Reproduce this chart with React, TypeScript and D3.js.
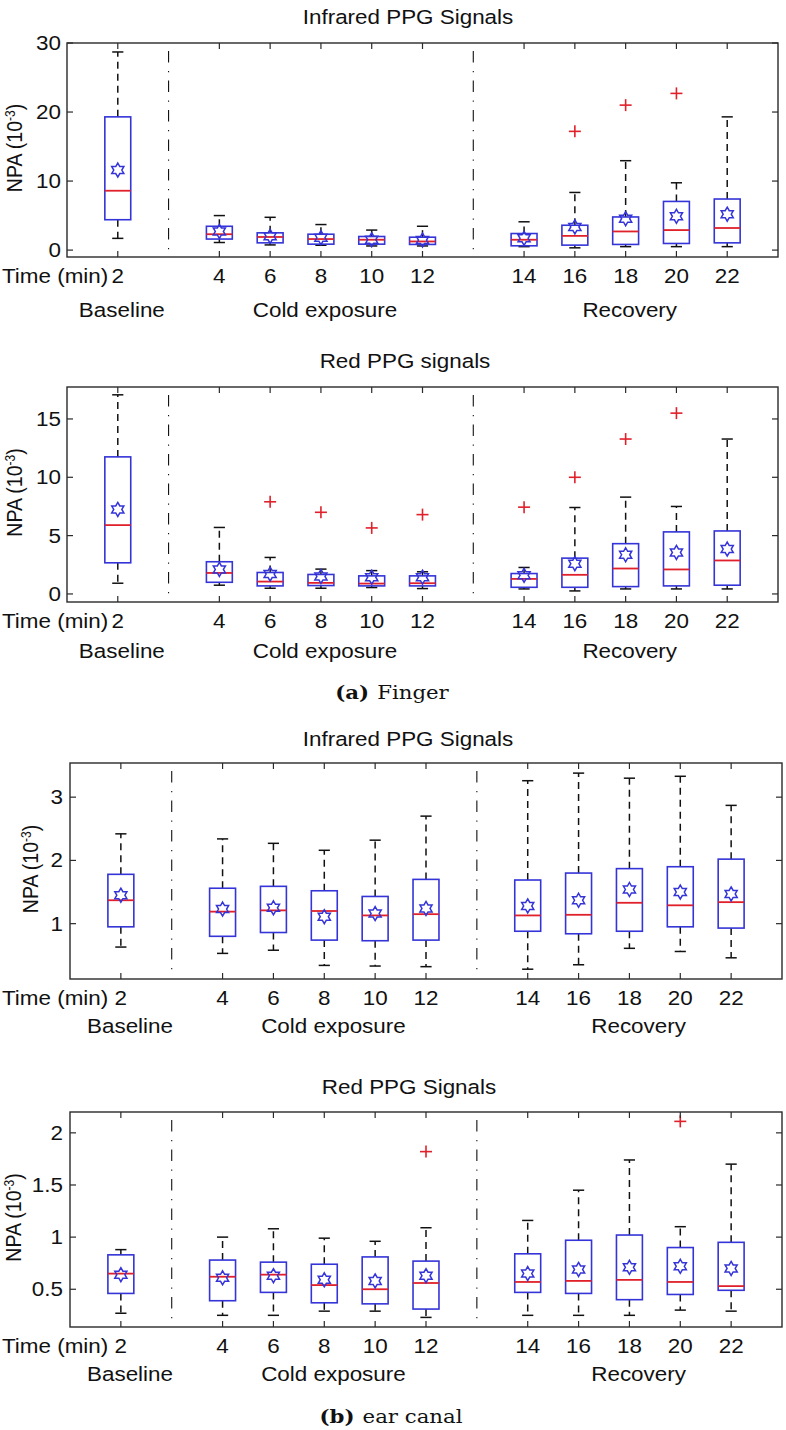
import React from "react";
import * as d3 from "d3";

// ---------- data ----------
const times = [2, 4, 6, 8, 10, 12, 14, 16, 18, 20, 22];
const groupNames = ["Baseline", "Cold exposure", "Recovery"];
const groupOf = [0, 1, 1, 1, 1, 1, 2, 2, 2, 2, 2];

// (a) Finger - Infrared
const fiLo = [1.7, 1.1, 0.75, 0.7, 0.6, 0.6, 0.5, 0.33, 0.5, 0.5, 0.5];
const fiQ1 = [4.4, 1.6, 1.05, 0.86, 0.86, 0.82, 0.62, 0.72, 0.82, 0.96, 1.05];
const fiMed = [8.6, 2.3, 1.9, 1.6, 1.5, 1.25, 1.5, 2.06, 2.7, 2.9, 3.2];
const fiQ3 = [19.3, 3.45, 2.5, 2.3, 1.97, 1.87, 2.4, 3.6, 4.8, 7.05, 7.4];
const fiHi = [28.7, 5.0, 4.75, 3.7, 2.9, 3.45, 4.1, 8.35, 12.95, 9.75, 19.3];
const fiMean = [11.6, 2.7, 2.0, 1.8, 1.5, 1.45, 1.7, 3.35, 4.55, 4.9, 5.2];
const fiOut = [[], [], [], [], [], [], [], [17.2], [21.0], [22.7], []];

// (a) Finger - Red
const frLo = [0.92, 0.75, 0.49, 0.49, 0.55, 0.46, 0.43, 0.26, 0.43, 0.43, 0.43];
const frQ1 = [2.67, 1.0, 0.69, 0.72, 0.69, 0.69, 0.57, 0.57, 0.63, 0.69, 0.75];
const frMed = [5.9, 1.8, 1.06, 0.95, 0.89, 0.92, 1.29, 1.64, 2.18, 2.1, 2.87];
const frQ3 = [11.75, 2.76, 1.84, 1.67, 1.55, 1.55, 1.75, 3.07, 4.31, 5.32, 5.4];
const frHi = [17.07, 5.7, 3.13, 2.13, 2.0, 1.9, 2.27, 7.41, 8.3, 7.5, 13.28];
const frMean = [7.24, 2.1, 1.7, 1.5, 1.44, 1.44, 1.6, 2.59, 3.36, 3.56, 3.85];
const frOut = [[], [], [7.9], [7.0], [5.66], [6.8], [7.44], [10.0], [13.28], [15.5], []];

// (b) Ear canal - Infrared
const eiLo = [0.63, 0.53, 0.58, 0.34, 0.33, 0.32, 0.28, 0.35, 0.61, 0.56, 0.46];
const eiQ1 = [0.95, 0.8, 0.86, 0.74, 0.73, 0.74, 0.88, 0.84, 0.88, 0.95, 0.93];
const eiMed = [1.37, 1.19, 1.21, 1.2, 1.13, 1.15, 1.13, 1.14, 1.33, 1.29, 1.34];
const eiQ3 = [1.78, 1.56, 1.59, 1.52, 1.43, 1.7, 1.69, 1.8, 1.87, 1.9, 2.02];
const eiHi = [2.42, 2.34, 2.27, 2.16, 2.32, 2.7, 3.26, 3.38, 3.3, 3.33, 2.87];
const eiMean = [1.45, 1.23, 1.25, 1.11, 1.16, 1.24, 1.28, 1.37, 1.54, 1.5, 1.47];
const eiOut = [[], [], [], [], [], [], [], [], [], [], []];

// (b) Ear canal - Red
const erLo = [0.27, 0.25, 0.25, 0.29, 0.29, 0.23, 0.25, 0.25, 0.25, 0.3, 0.29];
const erQ1 = [0.46, 0.39, 0.47, 0.37, 0.36, 0.31, 0.47, 0.46, 0.4, 0.45, 0.49];
const erMed = [0.65, 0.62, 0.64, 0.54, 0.5, 0.56, 0.57, 0.58, 0.59, 0.57, 0.53];
const erQ3 = [0.83, 0.78, 0.76, 0.74, 0.81, 0.77, 0.84, 0.97, 1.02, 0.9, 0.95];
const erHi = [0.88, 1.0, 1.08, 0.99, 0.96, 1.09, 1.16, 1.45, 1.74, 1.1, 1.7];
const erMean = [0.64, 0.61, 0.63, 0.59, 0.58, 0.63, 0.65, 0.69, 0.71, 0.72, 0.7];
const erOut = [[], [], [], [], [], [1.82], [], [], [], [2.11], []];

const fiTicks = [0, 10, 20, 30];
const frTicks = [0, 5, 10, 15];
const eiTicks = [1, 2, 3];
const erTicks = [0.5, 1, 1.5, 2];

// ---------- style ----------
const SANS = "'Liberation Sans', Arial, Helvetica, sans-serif";
const SERIF = "'DejaVu Serif', 'Liberation Serif', serif";
const FS = 19.5;
const SX = 1.15;
const BLUE = "#3434d8";
const RED = "#e0202a";
const AX = "#2a2a2a";

function T({ x, y, anchor = "middle", size = FS, family = SANS, weight = "normal", rotate = 0, children }: any) {
  const tr = `translate(${x},${y}) scale(${SX},1)` + (rotate ? ` rotate(${rotate})` : "");
  return (
    <text transform={tr} textAnchor={anchor} fontSize={size} fontFamily={family} fontWeight={weight} fill="#111">
      {children}
    </text>
  );
}

function starPath(cx: number, cy: number, R: number) {
  const r = R / Math.sqrt(3);
  const pts: string[] = [];
  for (let k = 0; k < 12; k++) {
    const a = -Math.PI / 2 + (k * Math.PI) / 6;
    const rad = k % 2 === 0 ? R : r;
    pts.push(`${(cx + rad * Math.cos(a)).toFixed(2)},${(cy + rad * Math.sin(a)).toFixed(2)}`);
  }
  return "M" + pts.join("L") + "Z";
}

function Panel({ p }: any) {
  const x = d3.scaleLinear().domain([0, 14]).range([p.left, p.right]);
  const y = d3.scaleLinear().domain(p.domain).range([p.bottom, p.top]);
  const slot = (i: number) => i + 1 + groupOf[i];
  const firstOf = (g: number) => groupOf.indexOf(g);
  const dividers = [1, 2].map((g) => slot(firstOf(g)) - 1);
  const groupCenters = groupNames.map((_, g) => {
    const idx = times.map((_, i) => i).filter((i) => groupOf[i] === g);
    return (slot(idx[0]) + slot(idx[idx.length - 1])) / 2;
  });
  const bw = 0.255;
  const cw = 0.11;
  const tick = 6;
  return (
    <g>
      <T x={p.titleX} y={p.titleY}>{p.title}</T>
      {/* dividers */}
      {dividers.map((d, k) => (
        <line key={k} x1={x(d)} x2={x(d)} y1={p.top + 8} y2={p.bottom - 6} stroke="#111" strokeWidth={1.1} strokeDasharray="11.5,8.5,1.2,8.3" />
      ))}
      {/* boxes */}
      {times.map((t, i) => {
        const s = slot(i);
        const cx = x(s);
        return (
          <g key={t}>
            <line x1={cx} x2={cx} y1={y(p.q3[i])} y2={y(p.hi[i])} stroke="#111" strokeWidth={1.5} strokeDasharray="7,5" />
            <line x1={cx} x2={cx} y1={y(p.q1[i])} y2={y(p.lo[i])} stroke="#111" strokeWidth={1.5} strokeDasharray="7,5" />
            <line x1={x(s - cw)} x2={x(s + cw)} y1={y(p.hi[i])} y2={y(p.hi[i])} stroke="#111" strokeWidth={1.5} />
            <line x1={x(s - cw)} x2={x(s + cw)} y1={y(p.lo[i])} y2={y(p.lo[i])} stroke="#111" strokeWidth={1.5} />
            <rect x={x(s - bw)} y={y(p.q3[i])} width={x(s + bw) - x(s - bw)} height={y(p.q1[i]) - y(p.q3[i])} fill="none" stroke={BLUE} strokeWidth={1.6} />
            <line x1={x(s - bw)} x2={x(s + bw)} y1={y(p.med[i])} y2={y(p.med[i])} stroke={RED} strokeWidth={1.8} />
            <path d={starPath(cx, y(p.mean[i]), 7)} fill="none" stroke={BLUE} strokeWidth={1.5} />
            {p.out[i].map((o: number, k: number) => (
              <g key={k} stroke={RED} strokeWidth={1.6}>
                <line x1={cx - 6} x2={cx + 6} y1={y(o)} y2={y(o)} />
                <line x1={cx} x2={cx} y1={y(o) - 6} y2={y(o) + 6} />
              </g>
            ))}
          </g>
        );
      })}
      {/* axes box */}
      <rect x={p.left} y={p.top} width={p.right - p.left} height={p.bottom - p.top} fill="none" stroke={AX} strokeWidth={1.4} />
      {/* x ticks */}
      {times.map((t, i) => (
        <g key={"xt" + t}>
          <line x1={x(slot(i))} x2={x(slot(i))} y1={p.bottom} y2={p.bottom - tick} stroke={AX} strokeWidth={1.2} />
          <line x1={x(slot(i))} x2={x(slot(i))} y1={p.top} y2={p.top + tick} stroke={AX} strokeWidth={1.2} />
          <T x={x(slot(i))} y={p.bottom + 26}>{String(t)}</T>
        </g>
      ))}
      {/* y ticks */}
      {p.ticks.map((v: number) => (
        <g key={"yt" + v}>
          <line x1={p.left} x2={p.left + tick} y1={y(v)} y2={y(v)} stroke={AX} strokeWidth={1.2} />
          <line x1={p.right} x2={p.right - tick} y1={y(v)} y2={y(v)} stroke={AX} strokeWidth={1.2} />
          <T x={p.left - p.tickGap} y={y(v) + 7} anchor="end">{String(v)}</T>
        </g>
      ))}
      <T x={2} y={p.bottom + 26} anchor="start">Time (min)</T>
      {groupNames.map((g, k) => (
        <T key={g} x={x(groupCenters[k] + p.groupShift)} y={p.bottom + p.groupDy}>{g}</T>
      ))}
      <T x={p.ylabX} y={(p.top + p.bottom) / 2 - 2} rotate={-90}>
        NPA (10<tspan dy={-6} fontSize={12}>-3</tspan><tspan dy={6}>)</tspan>
      </T>
    </g>
  );
}

const panels = [
  {
    title: "Infrared PPG Signals", titleX: 408, titleY: 24,
    left: 67, right: 778, top: 43, bottom: 257, domain: [-1, 30], ticks: fiTicks, tickGap: 6,
    lo: fiLo, q1: fiQ1, med: fiMed, q3: fiQ3, hi: fiHi, mean: fiMean, out: fiOut,
    groupDy: 60, groupShift: 0.08, ylabX: 22,
  },
  {
    title: "Red PPG signals", titleX: 405, titleY: 368,
    left: 67, right: 778, top: 387, bottom: 602, domain: [-0.69, 17.74], ticks: frTicks, tickGap: 6,
    lo: frLo, q1: frQ1, med: frMed, q3: frQ3, hi: frHi, mean: frMean, out: frOut,
    groupDy: 56, groupShift: 0.08, ylabX: 22,
  },
  {
    title: "Infrared PPG Signals", titleX: 408, titleY: 746,
    left: 70, right: 782, top: 763, bottom: 979, domain: [0.125, 3.54], ticks: eiTicks, tickGap: 7,
    lo: eiLo, q1: eiQ1, med: eiMed, q3: eiQ3, hi: eiHi, mean: eiMean, out: eiOut,
    groupDy: 54, groupShift: 0.18, ylabX: 38,
  },
  {
    title: "Red PPG Signals", titleX: 409, titleY: 1094,
    left: 70, right: 782, top: 1112, bottom: 1327, domain: [0.138, 2.2], ticks: erTicks, tickGap: 7,
    lo: erLo, q1: erQ1, med: erMed, q3: erQ3, hi: erHi, mean: erMean, out: erOut,
    groupDy: 54, groupShift: 0.18, ylabX: 21,
  },
];

export default function App() {
  return (
    <svg width={786} height={1430} style={{ position: "absolute", left: 0, top: 0, background: "#fff" }}>
      <rect x={0} y={0} width={786} height={1430} fill="#fff" />
      {panels.map((p, k) => (
        <Panel key={k} p={p} />
      ))}
      <text transform={`translate(392,699) scale(${SX},1)`} textAnchor="middle" fontFamily={SERIF} fontSize={18.5} fill="#111">
        <tspan fontWeight="bold">(a)</tspan>
        <tspan dx={7}>Finger</tspan>
      </text>
      <text transform={`translate(391,1423) scale(${SX},1)`} textAnchor="middle" fontFamily={SERIF} fontSize={18.5} fill="#111">
        <tspan fontWeight="bold">(b)</tspan>
        <tspan dx={7}>ear canal</tspan>
      </text>
    </svg>
  );
}
